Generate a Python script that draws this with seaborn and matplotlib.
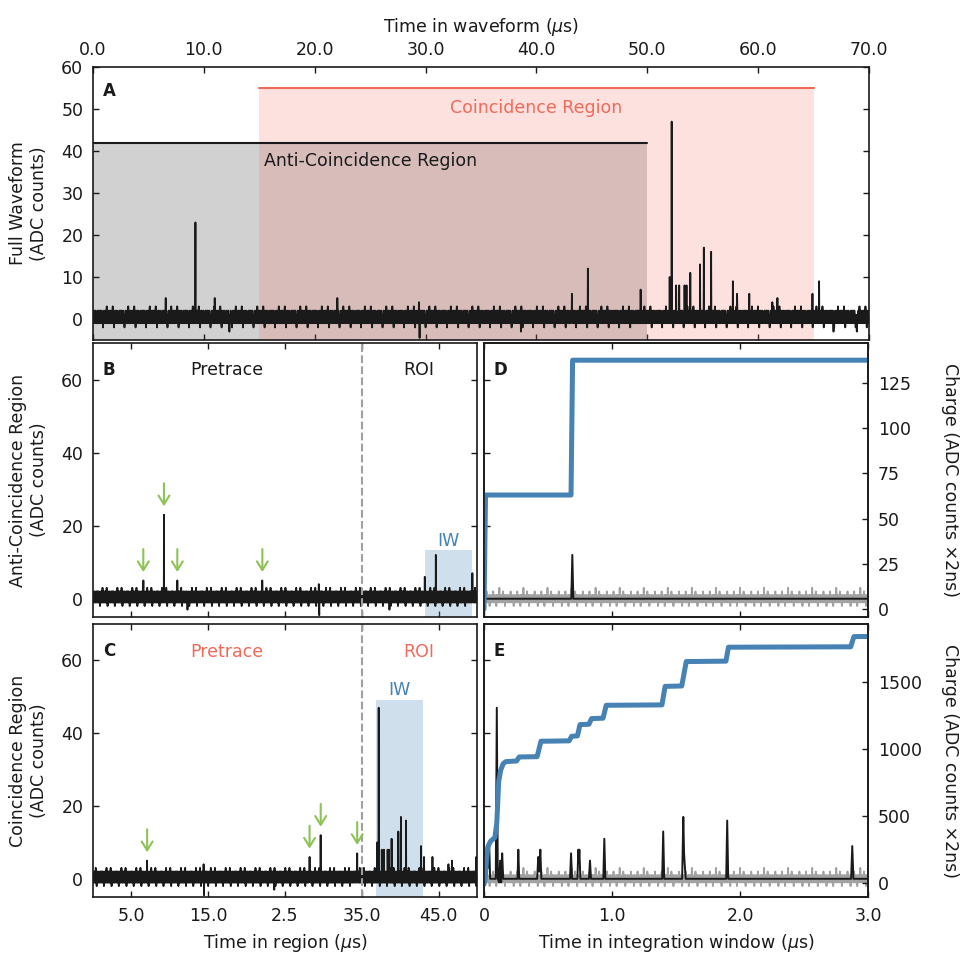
import numpy as np
import matplotlib
matplotlib.use('Agg')
import matplotlib.pyplot as plt
import seaborn as sns

# ---------------- values ----------------
# full waveform (time in us, ADC counts)
dt_full = 0.02
t_full_end = 70.0
# baseline noise pattern, repeated along the trace
wave_noise = [0, 1, -1, 1, 0, 2, -1, 0, 1, 1, -1, 0, 2, 0, -1, 1, 0, -1, 1, 0,
              1, -1, 2, 0, 0, 1, -1, 1, 2, 0, -1, 0, 1, 2, -1, 0, 1, -1, 0, 2,
              1, -1, 0, 1, 0, -2, 1, 1, -1, 0, 2, 0, 1, -1, 0, 1, -1, 2, 0, -1,
              1, 0, 3, -1, 1, 0, 2, -1, 0, 1, -1, 1, 0, 2, -1, 0, 1, 1, -1, 2,
              0, -1, 1, 0, 2, -1, 1, 0, -1, 3, 0, 1, -1, 2, 0, -2, 1]
spike_times = [6.55, 9.24, 10.98, 22.05, 29.4, 43.2, 44.65, 49.4, 52.02, 52.2,
               52.59, 52.89, 53.37, 53.54, 53.89, 54.76, 55.10, 55.76, 57.71,
               58.1, 59.2, 61.27, 61.74, 64.9, 65.5]
spike_heights = [5, 23, 5, 5, 4, 6, 12, 7, 10, 47, 8, 8, 8, 8, 11, 13, 17, 16, 9,
                 6, 6, 4, 5, 6, 9]
dip_times = [29.46, 12.3, 38.6, 66.8, 68.9]
dip_depths = [-4.5, -3, -3, -3, -3]

anti_region = (0.0, 50.0)
coinc_region = (15.0, 65.0)
anti_top = 42
coinc_top = 55
roi_start = 35.0
iw_anti = (43.2, 49.3, 13.3)      # start, end, top
iw_coinc = (36.85, 43.0, 49.2)
arrows_anti = [6.55, 9.24, 10.98, 22.05]     # waveform time of marked pulses
arrows_coinc = [22.05, 43.2, 44.65, 49.4]

# integration windows (time in window, us)
dt_iw = 0.004
iw_noise = [1, -1, 0, 1, -1, 2, -1, 1, 0, -1, 1, -2, 1, 0, -1, 1, -1, 0, 2, -1,
            1, -1, 0, 1, -2, 1, -1, 1, 0, -1, 3, -1, 1, 0, -1, 1, -1, 2, 0, -1,
            1, -2, 1, -1, 0, 1, -1]

d_trace_t = [0.0, 0.008, 0.682, 0.69, 0.698, 3.0]
d_trace_v = [6, 0, 0, 12, 0, 0]
d_charge_t = [0.0, 0.012, 0.68, 0.692, 3.0]
d_charge_q = [0, 63, 63, 137.5, 137.5]

e_trace_t = [0.0, 0.008, 0.016, 0.024, 0.032, 0.04, 0.048, 0.092, 0.10, 0.108,
             0.118, 0.126, 0.134, 0.142, 0.150, 0.158, 0.262, 0.268, 0.275,
             0.415, 0.424, 0.432, 0.44, 0.448, 0.672, 0.68, 0.688, 0.730, 0.737,
             0.741, 0.745, 0.753, 0.820, 0.828, 0.836, 0.932, 0.94, 0.948,
             1.392, 1.40, 1.408, 1.548, 1.557, 1.563, 1.568, 1.576, 1.892, 1.90,
             1.908, 2.868, 2.877, 2.886, 3.0]
e_trace_v = [0, 7, 1, 9, 3, 10, 0, 0, 47, 0,
             -1, 5, -1, 7, 0, 0, 0, 8, 0,
             0, 6, 2, 8, 0, 0, 7, 0, 0, 8,
             5, 8, 0, 0, 5, 0, 0, 11, 0,
             0, 13, 0, 0, 17, 7, 4, 0, 0, 16,
             0, 0, 9, 0, 0]
e_charge_t = [0.0, 0.01, 0.02, 0.03, 0.05, 0.085, 0.10, 0.115, 0.13, 0.15, 0.17,
              0.255, 0.275, 0.415, 0.445, 0.665, 0.685, 0.73, 0.75, 0.82, 0.84,
              0.93, 0.955, 1.39, 1.415, 1.545, 1.58, 1.89, 1.91, 2.865, 2.89, 3.0]
e_charge_q = [-10, 40, 180, 270, 310, 340, 450, 760, 840, 890, 905,
              910, 940, 942, 1057, 1060, 1094, 1097, 1181, 1184, 1226,
              1229, 1325, 1328, 1466, 1469, 1651, 1654, 1758, 1761, 1837, 1838]

full_ticks = [0, 10, 20, 30, 40, 50, 60, 70]
region_ticks = [5, 15, 25, 35, 45]
region_ticklabels = ['5.0', '15.0', '2.5', '35.0', '45.0']
iw_ticks = [0, 1, 2, 3]
iw_ticklabels = ['0', '1.0', '2.0', '3.0']

# ---------------- build traces ----------------
n_full = int(round(t_full_end / dt_full)) + 1
t_full = np.round(np.arange(n_full) * dt_full, 4)
wave = np.resize(np.array(wave_noise, dtype=float), n_full)
for t, h in zip(spike_times, spike_heights):
    wave[int(round(t / dt_full))] = h
for t, h in zip(dip_times, dip_depths):
    wave[int(round(t / dt_full))] = h
peak_of = dict(zip(spike_times, spike_heights))

n_iw = int(round(3.0 / dt_iw)) + 1
t_iw = np.round(np.arange(n_iw) * dt_iw, 4)
gray_iw = np.resize(np.array(iw_noise, dtype=float), n_iw)

# ---------------- style ----------------
sns.set_theme(style='ticks', rc={'text.color': 'k', 'axes.labelcolor': 'k',
                                 'xtick.color': 'k', 'ytick.color': 'k',
                                 'axes.edgecolor': 'k'})
plt.rcParams['font.family'] = ['DejaVu Sans']
plt.rcParams['mathtext.fontset'] = 'dejavusans'
FS = 12.5
salmon = '#f06a5a'
steel = '#4682b4'
green = '#8dc356'
gray_line = '#a2a2a2'

fig = plt.figure(figsize=(9.75, 9.75), dpi=100)
H = 975.0


def box(x0, y0, x1, y1):
    return [x0 / H, 1 - y1 / H, (x1 - x0) / H, (y1 - y0) / H]


axA = fig.add_axes(box(93, 67, 869, 340))
axB = fig.add_axes(box(93, 343, 477, 617))
axC = fig.add_axes(box(93, 624, 477, 897))
axD = fig.add_axes(box(484, 343, 868, 617))
axE = fig.add_axes(box(484, 624, 868, 897))


def style(ax, left=True, right=True):
    for s in ax.spines.values():
        s.set_linewidth(1.2)
        s.set_color('k')
    ax.tick_params(direction='in', top=True, bottom=True, left=left, right=right,
                   length=4.5, width=1, pad=7, labelsize=FS, colors='k')


def trace(ax, x, y, color='k', lw=1.3):
    sns.lineplot(x=x, y=y, ax=ax, color=color, lw=lw, estimator=None,
                 sort=False, legend=False)


# ---- panel A ----
axA.fill_between(anti_region, -5, anti_top, color='k', alpha=0.2, lw=0)
axA.fill_between(coinc_region, -5, coinc_top, color=salmon, alpha=0.2, lw=0)
axA.plot(anti_region, [anti_top, anti_top], color='k', lw=1.5)
axA.plot(coinc_region, [coinc_top, coinc_top], color=salmon, lw=1.5)
trace(axA, t_full, wave)
axA.text(40, 50.3, 'Coincidence Region', color=salmon, ha='center', va='center',
         fontsize=FS)
axA.text(25, 37.6, 'Anti-Coincidence Region', color='k', ha='center',
         va='center', fontsize=FS)
axA.set_xlim(0, 70)
axA.set_ylim(-5, 60)
axA.set_xticks(full_ticks)
axA.set_xticklabels(['%.1f' % v for v in full_ticks])
axA.set_yticks(range(0, 61, 10))
style(axA)
axA.tick_params(axis='x', labeltop=True, labelbottom=False, pad=6)
axA.xaxis.set_label_position('top')
axA.set_xlabel(r'Time in waveform ($\mu$s)', fontsize=FS, labelpad=6)
axA.set_ylabel('Full Waveform\n(ADC counts)', fontsize=FS, va='center')
axA.yaxis.set_label_coords(-0.083, 0.5)
axA.text(0.013, 0.945, 'A', transform=axA.transAxes, fontweight='bold',
         fontsize=12, va='top', ha='left')

# ---- panels B and C ----
regions = [
    (axB, anti_region, iw_anti, arrows_anti, 'k', 'B',
     'Anti-Coincidence Region\n(ADC counts)', (17.4, 62.5), (42.4, 62.5)),
    (axC, coinc_region, iw_coinc, arrows_coinc, salmon, 'C',
     'Coincidence Region\n(ADC counts)', (17.4, 62.3), (42.4, 62.3)),
]
for ax, reg, iw, arrows, tcol, letter, ylab, pre_xy, roi_xy in regions:
    m = (t_full >= reg[0] - 1e-9) & (t_full <= reg[1] + 1e-9)
    ax.fill_between([iw[0], iw[1]], -5, iw[2], color=steel, alpha=0.25, lw=0)
    trace(ax, t_full[m] - reg[0], wave[m])
    ax.axvline(roi_start, color='#a0a0a0', ls='--', lw=1.5)
    ax.text((iw[0] + iw[1]) / 2, iw[2] + 2.6, 'IW', color=steel, ha='center',
            va='center', fontsize=FS)
    ax.text(*pre_xy, 'Pretrace', color=tcol, ha='center', va='center', fontsize=FS)
    ax.text(*roi_xy, 'ROI', color=tcol, ha='center', va='center', fontsize=FS)
    for ta in arrows:
        h = peak_of[ta]
        x = ta - reg[0]
        ax.annotate('', xy=(x, h + 2.3), xytext=(x, h + 8.6),
                    arrowprops=dict(arrowstyle='->, head_length=0.45, head_width=0.28',
                                    color=green, lw=1.5, mutation_scale=14,
                                    shrinkA=0, shrinkB=0))
    ax.set_xlim(0, 50)
    ax.set_ylim(-5, 70)
    ax.set_xticks(region_ticks)
    ax.set_yticks([0, 20, 40, 60])
    style(ax)
    ax.set_ylabel(ylab, fontsize=FS, va='center')
    ax.yaxis.set_label_coords(-0.168, 0.5)
    ax.text(0.026, 0.935, letter, transform=ax.transAxes, fontweight='bold',
            fontsize=12, va='top', ha='left')

axB.set_xticklabels([])
axB.set_xlabel('')
axC.set_xticklabels(region_ticklabels)
axC.set_xlabel(r'Time in region ($\mu$s)', fontsize=FS, labelpad=5)

# ---- panels D and E ----
windows = [
    (axD, d_trace_t, d_trace_v, d_charge_t, d_charge_q, (-4.4, 147),
     [0, 25, 50, 75, 100, 125], 'D'),
    (axE, e_trace_t, e_trace_v, e_charge_t, e_charge_q, (-104, 1931),
     [0, 500, 1000, 1500], 'E'),
]
for ax, tt, tv, ct, cq, qlim, qticks, letter in windows:
    trace(ax, t_iw, gray_iw, color=gray_line, lw=1.3)
    trace(ax, tt, tv, color='k', lw=1.4)
    ax.set_xlim(0, 3)
    ax.set_ylim(-5, 70)
    ax.set_xticks(iw_ticks)
    ax.set_yticks([0, 20, 40, 60])
    ax.set_yticklabels([])
    style(ax, right=False)
    ax.set_ylabel('')
    tw = ax.twinx()
    trace(tw, ct, cq, color=steel, lw=3.6)
    tw.set_ylim(*qlim)
    tw.set_yticks(qticks)
    style(tw, left=False)
    tw.tick_params(labelright=True, labelleft=False)
    tw.set_ylabel('Charge (ADC counts ×2ns)', fontsize=FS, rotation=270,
                  va='center', ha='center')
    tw.yaxis.set_label_coords(1.2135, 0.5)
    ax.text(0.026, 0.935, letter, transform=ax.transAxes, fontweight='bold',
            fontsize=12, va='top', ha='left')

axD.set_xticklabels([])
axD.set_xlabel('')
axE.set_xticklabels(iw_ticklabels)
axE.set_xlabel(r'Time in integration window ($\mu$s)', fontsize=FS, labelpad=5)

fig.savefig('out.png', dpi=100, facecolor='white')
